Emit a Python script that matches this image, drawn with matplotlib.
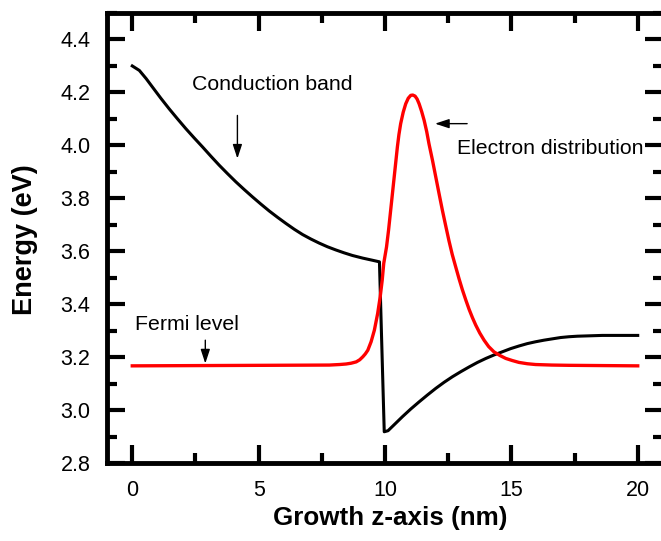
import matplotlib
matplotlib.use('Agg')

import matplotlib.pyplot as plt
from matplotlib.ticker import MultipleLocator

plt.rcParams['font.family'] = ['Liberation Sans', 'DejaVu Sans']

# Conduction band profile (eV) along the growth axis (nm)
cb_z = [0, 0.28, 0.55, 0.80, 1.13, 1.46, 1.79, 2.12, 2.45, 2.78, 3.11, 3.44,
        3.77, 4.10, 4.43, 4.76, 5.09, 5.42, 5.75, 6.08, 6.41, 6.74, 7.07, 7.39,
        7.72, 8.05, 8.38, 8.71, 9.12, 9.50, 9.78,
        9.97, 10.12, 10.40, 10.69, 11.02, 11.35, 11.68, 12.01, 12.34, 12.67,
        13.00, 13.33, 13.66, 13.99, 14.31, 14.64, 14.97, 15.30, 15.63, 15.96,
        16.29, 16.62, 16.95, 17.28, 17.61, 17.94, 18.60, 20.0]
cb_energy = [4.300, 4.283, 4.252, 4.220, 4.178, 4.138, 4.100, 4.063, 4.028,
             3.994, 3.959, 3.925, 3.893, 3.862, 3.833, 3.805, 3.778, 3.752,
             3.728, 3.705, 3.683, 3.663, 3.646, 3.631, 3.617, 3.605, 3.594,
             3.584, 3.574, 3.566, 3.560,
             2.918, 2.922, 2.948, 2.975, 3.004, 3.031, 3.057, 3.082, 3.105,
             3.126, 3.145, 3.163, 3.180, 3.195, 3.208, 3.220, 3.232, 3.242,
             3.251, 3.258, 3.264, 3.269, 3.274, 3.277, 3.279, 3.280, 3.282, 3.282]

# Electron distribution, drawn on top of the Fermi level
ed_z = [0, 7.80, 8.20, 8.46, 8.66, 8.86, 9.00, 9.12, 9.22, 9.32, 9.45, 9.58,
        9.71, 9.81, 9.89, 9.95, 10.06, 10.14, 10.21, 10.28, 10.35, 10.42,
        10.49, 10.55, 10.62, 10.72, 10.82, 10.92, 11.02, 11.10, 11.19, 11.27,
        11.35, 11.45, 11.55, 11.65, 11.74, 11.88, 12.01, 12.14, 12.27, 12.40,
        12.53, 12.66, 12.80, 12.93, 13.06, 13.20, 13.33, 13.46, 13.59, 13.75,
        13.92, 14.10, 14.31, 14.55, 14.78, 15.04, 15.30, 15.63, 15.96, 16.60,
        17.28, 20.0]
ed_energy = [3.167, 3.170, 3.172, 3.174, 3.177, 3.182, 3.190, 3.201, 3.212,
             3.226, 3.258, 3.302, 3.365, 3.428, 3.491, 3.554, 3.616, 3.679,
             3.742, 3.805, 3.868, 3.931, 3.994, 4.040, 4.082, 4.125, 4.157,
             4.178, 4.189, 4.190, 4.186, 4.175, 4.157, 4.128, 4.094, 4.052,
             4.006, 3.943, 3.880, 3.817, 3.755, 3.697, 3.640, 3.588, 3.540,
             3.496, 3.455, 3.415, 3.380, 3.349, 3.321, 3.291, 3.264, 3.240,
             3.220, 3.206, 3.195, 3.187, 3.180, 3.175, 3.172, 3.170, 3.169, 3.167]

x_ticks = [0, 5, 10, 15, 20]
y_ticks = [2.8, 3.0, 3.2, 3.4, 3.6, 3.8, 4.0, 4.2, 4.4]

fig = plt.figure(figsize=(6.61, 5.41), dpi=100)
ax = fig.add_axes([107 / 661, 78 / 541, 556 / 661, 450 / 541])

ax.plot(cb_z, cb_energy, color='black', lw=2.2)
ax.plot(ed_z, ed_energy, color='#ff0000', lw=2.4)

ax.set_xlim(-1, 21)
ax.set_ylim(2.8, 4.5)
ax.set_xticks(x_ticks)
ax.set_yticks(y_ticks)
ax.set_yticklabels([f'{v:.1f}' for v in y_ticks])
ax.xaxis.set_minor_locator(MultipleLocator(2.5))
ax.yaxis.set_minor_locator(MultipleLocator(0.1))

ax.tick_params(which='both', direction='in', top=True, right=True, width=3,
               labelsize=15.5, pad=12)
ax.tick_params(which='major', length=13)
ax.tick_params(which='minor', length=7)
for s in ax.spines.values():
    s.set_linewidth(3.5)

ax.set_xlabel('Growth z-axis (nm)', fontsize=18.7, fontweight='bold', va='center')
ax.set_ylabel('Energy (eV)', fontsize=19.5, fontweight='bold', va='center')
ax.xaxis.set_label_coords(0.510, -0.122)
ax.yaxis.set_label_coords(-0.147, 0.497)

# Annotations with small pointer arrows
arrow = dict(arrowstyle='-|>,head_length=0.85,head_width=0.28', color='black',
             lw=1.0, shrinkA=0, shrinkB=0, mutation_scale=10)
ax.text(2.37, 4.228, 'Conduction band', fontsize=15.3, ha='left', va='center')
ax.annotate('', xy=(4.16, 3.950), xytext=(4.16, 4.113), arrowprops=arrow)
ax.text(12.84, 3.987, 'Electron distribution', fontsize=15.3, ha='left', va='center')
ax.annotate('', xy=(11.98, 4.082), xytext=(13.25, 4.082), arrowprops=arrow)
ax.text(0.12, 3.325, 'Fermi level', fontsize=15.3, ha='left', va='center')
ax.annotate('', xy=(2.89, 3.176), xytext=(2.89, 3.264), arrowprops=arrow)

fig.savefig('out.png', dpi=100)
plt.close(fig)
